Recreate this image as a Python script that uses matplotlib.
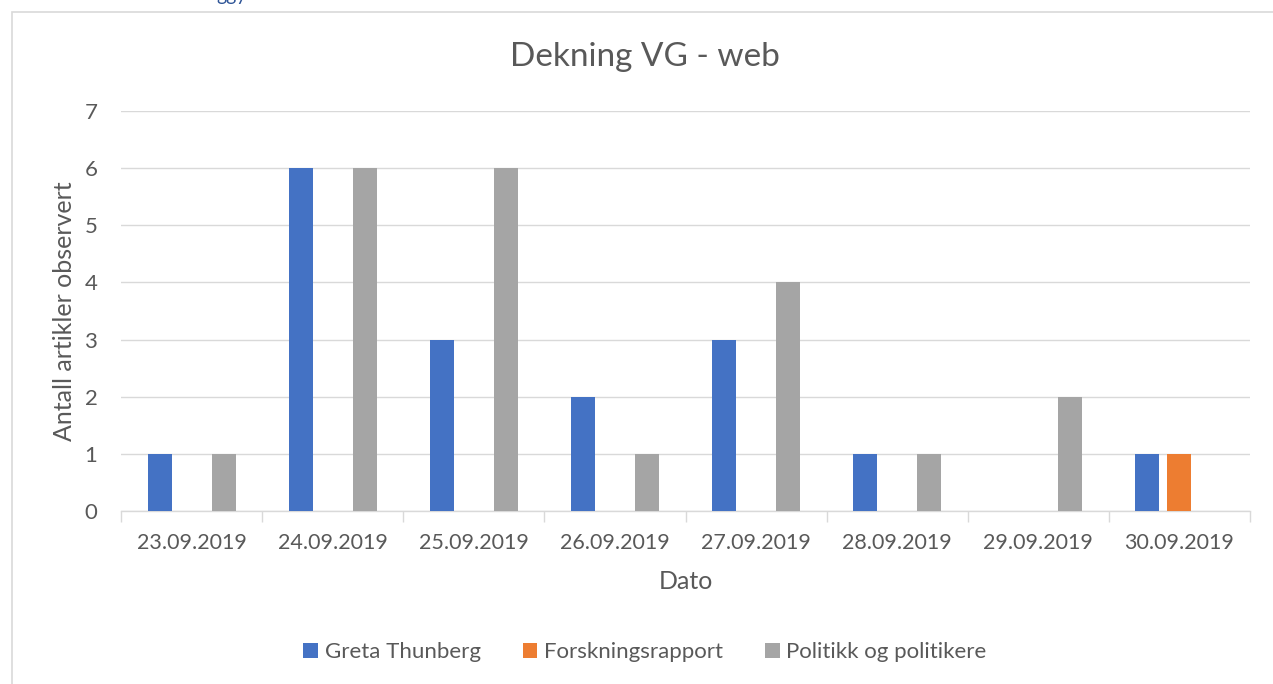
import matplotlib
matplotlib.use("Agg")
import matplotlib.pyplot as plt
from matplotlib.patches import Rectangle, Patch
import numpy as np

plt.rcParams['font.family'] = ['Lato', 'DejaVu Sans']

dates = ["23.09.2019", "24.09.2019", "25.09.2019", "26.09.2019",
         "27.09.2019", "28.09.2019", "29.09.2019", "30.09.2019"]
series_names = ["Greta Thunberg", "Forskningsrapport", "Politikk og politikere"]
greta = [1, 6, 3, 2, 3, 1, 0, 1]
forskning = [0, 0, 0, 0, 0, 0, 0, 1]
politikk = [1, 6, 6, 1, 4, 1, 2, 0]
colors = ["#4472C4", "#ED7D31", "#A5A5A5"]
yticks = [0, 1, 2, 3, 4, 5, 6, 7]

W, H = 1273, 684
fig = plt.figure(figsize=(W / 100, H / 100), dpi=100)
ax = fig.add_axes([121 / W, 1 - 511 / H, (1250 - 121) / W, (511 - 111) / H])

txt = "#595959"
x = np.arange(len(dates))
bw = 0.17
off = 0.227
for i, (vals, c) in enumerate(zip([greta, forskning, politikk], colors)):
    ax.bar(x + (i - 1) * off, vals, width=bw, color=c, zorder=3, label=series_names[i])

ax.set_xlim(-0.5, len(dates) - 0.5)
ax.set_ylim(0, 7)
ax.set_yticks(yticks)
ax.set_yticklabels([str(v) for v in yticks])
ax.yaxis.grid(True, color="#d9d9d9", linewidth=1.0, zorder=0)
ax.tick_params(axis='y', length=0, pad=17, labelsize=16, labelcolor=txt)

ax.set_xticks(x)
ax.set_xticklabels(dates)
ax.set_xticks(np.arange(-0.5, len(dates), 1.0), minor=True)
ax.tick_params(axis='x', which='major', length=0, pad=16, labelsize=15.5, labelcolor=txt)
ax.tick_params(axis='x', which='minor', length=8, width=1, color="#d9d9d9", direction='out')

for s in ['top', 'right', 'left']:
    ax.spines[s].set_visible(False)
ax.spines['bottom'].set_color("#d9d9d9")
ax.spines['bottom'].set_linewidth(1.0)

ax.set_ylabel("Antall artikler observert", fontsize=18, color=txt, labelpad=6)
ax.set_xlabel("Dato", fontsize=18, color=txt, labelpad=12)

fig.text(645 / W, 1 - 57 / H, "Dekning VG - web", ha='center', va='center',
         fontsize=24, color=txt)

handles = [Patch(facecolor=c, edgecolor='none') for c in colors]
fig.legend(handles, series_names, loc='center', bbox_to_anchor=(645 / W, 1 - 652 / H),
           ncol=3, frameon=False, fontsize=16, labelcolor=txt,
           handlelength=0.65, handleheight=0.65, handletextpad=0.3, columnspacing=1.9)

# outer chart border (partially visible)
fig.patches.append(Rectangle((12 / W, -0.2), 1.2, 1.2 - 12 / H, transform=fig.transFigure,
                             fill=False, edgecolor="#d9d9d9", linewidth=1.2, zorder=0))

# cut-off text at the very top (as in the reference)
fig.text(216 / W, 1 - 1 / H, "ggy", ha='left', va='baseline', fontsize=14, color="#2F5597")

fig.savefig("out.png", dpi=100)
